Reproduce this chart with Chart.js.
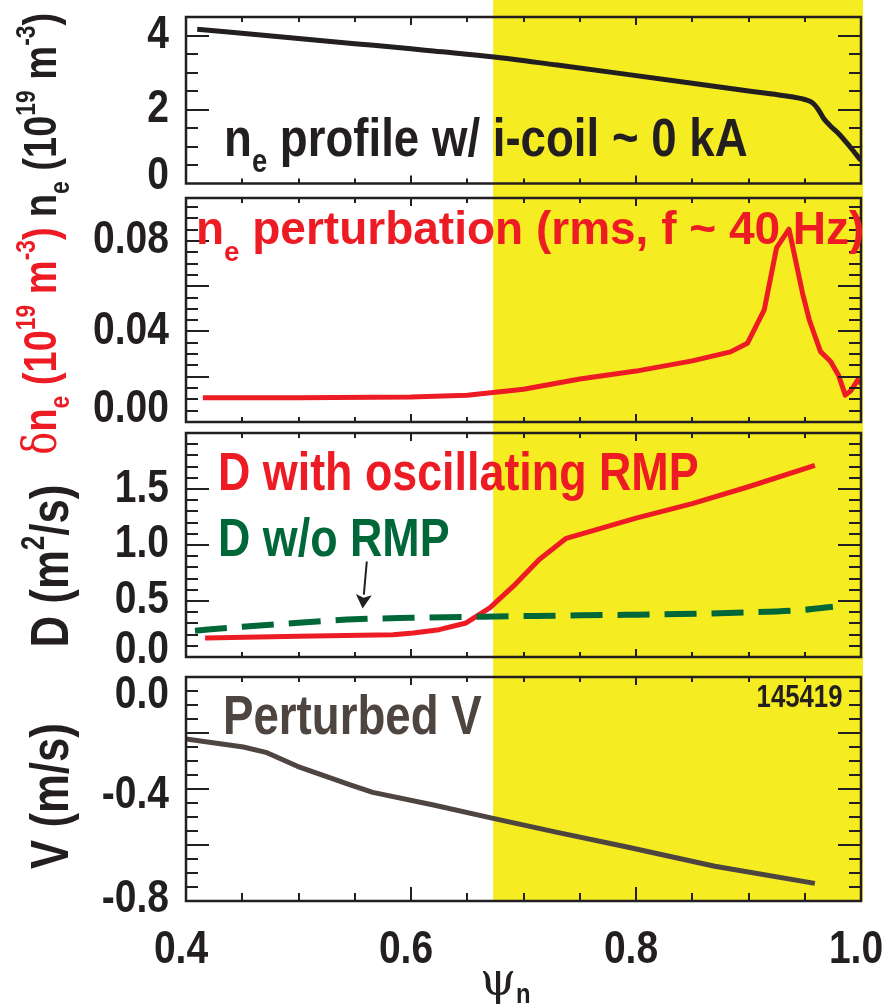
<!DOCTYPE html>
<html>
<head>
<meta charset="utf-8">
<script src="https://cdn.jsdelivr.net/npm/chart.js@4.4.0/dist/chart.umd.min.js"></script>
<style>
html,body{margin:0;padding:0;background:#fff;}
#wrap{position:relative;width:886px;height:1004px;overflow:hidden;}
#wrap canvas{position:absolute;left:0;}
.t{position:absolute;white-space:nowrap;font-family:"Liberation Sans",Arial,sans-serif;font-weight:bold;line-height:1;z-index:5;transform-origin:0 0;transform:scaleX(0.83);}
.tr{transform-origin:100% 0;}
.wide{transform:none;}
.rot{transform-origin:50% 50%;transform:translate(-50%,-50%) rotate(-90deg) scaleX(0.81);}
.sub{font-size:0.6em;position:relative;}
.sup{font-size:0.6em;position:relative;top:-0.75em;}
.sym{font-family:"DejaVu Serif",serif;font-weight:normal;}
</style>
</head>
<body>
<div id="wrap">
  <canvas id="c1" width="886" height="191" style="top:0px"></canvas>
  <canvas id="c2" width="886" height="236" style="top:191px"></canvas>
  <canvas id="c3" width="886" height="240" style="top:427px"></canvas>
  <canvas id="c4" width="886" height="337" style="top:667px"></canvas>

  <!-- y-axis titles -->
  <div class="t rot" style="left:39px;top:115px;font-size:47px;color:#231f20;">n<span class="sub" style="top:0.45em">e</span> (10<span class="sup">19</span> m<span class="sup">-3</span>)</div>
  <div class="t rot" style="left:39px;top:341px;font-size:47px;color:#ed1c24;"><span class="sym">δ</span>n<span class="sub" style="top:0.45em">e</span> (10<span class="sup">19</span> m<span class="sup">-3</span>)</div>
  <div class="t rot" style="left:49px;top:566px;font-size:54px;color:#231f20;">D (m<span class="sup">2</span>/s)</div>
  <div class="t rot" style="left:49px;top:796px;font-size:54px;color:#231f20;">V (m/s)</div>

  <!-- annotations -->
  <div class="t" style="left:224px;top:110px;font-size:54px;color:#231f20;transform:scaleX(0.845);">n<span class="sub" style="top:0.5em">e</span> profile w/ i-coil ~ 0 kA</div>
  <div class="t wide" style="left:196px;top:205px;font-size:46px;color:#ed1c24;">n<span class="sub" style="top:0.6em">e</span> perturbation (rms, f ~ 40 Hz)</div>
  <div class="t" style="left:218px;top:444px;font-size:54px;color:#ed1c24;">D with oscillating RMP</div>
  <div class="t" style="left:218px;top:510px;font-size:54px;color:#006838;">D w/o RMP</div>
  <div class="t" style="left:223px;top:688px;font-size:55px;color:#4e4540;">Perturbed V</div>
  <div class="t tr" style="right:44px;top:681px;font-size:31px;color:#231f20;">145419</div>

  <!-- x-axis title -->
  <div class="t wide" style="left:480px;top:956px;font-size:46px;color:#231f20;"><span style="font-family:'DejaVu Serif',serif;font-weight:normal;">ψ</span><span style="font-size:28px;position:relative;top:8px;display:inline-block;transform:scaleX(0.85);transform-origin:0 0;">n</span></div>
</div>

<script>
// ---------------- data ----------------
const psiNe = [0.41, 0.5, 0.55, 0.6, 0.62, 0.674, 0.73, 0.787, 0.85, 0.905, 0.93, 0.95, 0.957, 0.962, 0.967, 0.973, 0.98, 0.99, 1.0];
const neProfile = [4.17, 3.92, 3.78, 3.64, 3.58, 3.42, 3.20, 2.97, 2.71, 2.48, 2.38, 2.27, 2.18, 2.0, 1.75, 1.55, 1.35, 1.0, 0.62];

const psiPert = [0.415, 0.5, 0.6, 0.65, 0.7, 0.75, 0.8, 0.85, 0.884, 0.899, 0.914, 0.925, 0.936, 0.948, 0.954, 0.964, 0.973, 0.98, 0.986, 0.991, 0.997, 1.0];
const dnePert = [0.0107, 0.0107, 0.011, 0.0118, 0.0145, 0.019, 0.0225, 0.027, 0.031, 0.0348, 0.0496, 0.0771, 0.0852, 0.057, 0.0452, 0.0311, 0.0267, 0.0207, 0.0119, 0.0138, 0.0185, 0.017];

const psiDRmp = [0.417, 0.5, 0.584, 0.602, 0.625, 0.649, 0.67, 0.691, 0.714, 0.738, 0.8, 0.85, 0.9, 0.959];
const dWithRmp = [0.17, 0.185, 0.199, 0.215, 0.244, 0.304, 0.439, 0.632, 0.871, 1.06, 1.24, 1.37, 1.52, 1.71];

const psiDNoRmp = [0.408, 0.45, 0.5, 0.543, 0.6, 0.664, 0.7, 0.75, 0.8, 0.838, 0.9, 0.945, 0.975];
const dNoRmp = [0.235, 0.27, 0.305, 0.334, 0.35, 0.36, 0.365, 0.372, 0.378, 0.383, 0.398, 0.418, 0.448];

const psiV = [0.4, 0.451, 0.471, 0.499, 0.546, 0.566, 0.62, 0.672, 0.73, 0.791, 0.87, 0.959];
const vPerturbed = [-0.221, -0.25, -0.269, -0.319, -0.385, -0.412, -0.457, -0.504, -0.555, -0.606, -0.676, -0.737];

const yellowRange = [0.673, 1.0];
const xTickValues = [0.4, 0.6, 0.8, 1.0];
const xTickLabels = ['0.4', '0.6', '0.8', '1.0'];
const neTickValues = [0, 2, 4];
const neTickLabels = ['0', '2', '4'];
const pertTickValues = [0, 0.04, 0.08];
const pertTickLabels = ['0.00', '0.04', '0.08'];
const dTickValues = [0, 0.5, 1.0, 1.5];
const dTickLabels = ['0.0', '0.5', '1.0', '1.5'];
const vTickValues = [-0.8, -0.4, 0];
const vTickLabels = ['-0.8', '-0.4', '0.0'];
const arrowFrom = [0.5607, 0.853];
const arrowTo = [0.557, 0.432];

// ---------------- styling ----------------
const INK = '#231f20';
const RED = '#ed1c24';
const GREEN = '#006838';
const BROWN = '#4e4540';
const YELLOW = '#f5ec22';
const FONT = '"Liberation Sans", Arial, sans-serif';
const SQUEEZE = 0.83;

function pts(xs, ys) { return xs.map((x, i) => ({ x: x, y: ys[i] })); }

function squeezedText(ctx, txt, x, y, align) {
  ctx.save();
  ctx.translate(x, y);
  ctx.scale(SQUEEZE, 1);
  ctx.textAlign = align;
  ctx.fillText(txt, 0, 0);
  ctx.restore();
}

function panelPlugin(p) {
  return {
    id: 'panel_' + p.id,
    beforeDraw(chart) {
      const ctx = chart.ctx, a = chart.chartArea, xs = chart.scales.x;
      const x0 = xs.getPixelForValue(yellowRange[0]);
      const x1 = xs.getPixelForValue(yellowRange[1]) + 2;
      const yb = p.last ? a.bottom : chart.height;
      ctx.save();
      ctx.fillStyle = YELLOW;
      ctx.fillRect(x0, 0, x1 - x0, yb);
      ctx.restore();
    },
    afterDatasetsDraw(chart) {
      const ctx = chart.ctx, a = chart.chartArea, xs = chart.scales.x, ys = chart.scales.y;
      ctx.save();
      ctx.strokeStyle = INK;
      ctx.lineCap = 'butt';
      // y ticks (left & right, inward)
      ctx.lineWidth = 2;
      const n = Math.round((p.yMax - p.yMin) / p.minor);
      for (let i = 0; i <= n; i++) {
        const v = p.yMin + i * p.minor;
        if (v > p.yMax + 1e-9) break;
        const yPix = Math.round(ys.getPixelForValue(v));
        if (yPix < a.top + 3 || yPix > a.bottom - 3) continue;
        const isMajor = Math.abs(v / p.major - Math.round(v / p.major)) < 1e-6;
        const len = isMajor ? 23 : 12;
        ctx.beginPath();
        ctx.moveTo(a.left, yPix); ctx.lineTo(a.left + len, yPix);
        ctx.moveTo(a.right, yPix); ctx.lineTo(a.right - len, yPix);
        ctx.stroke();
      }
      // x ticks (top & bottom, inward)
      const nx = Math.round((1.0 - 0.4) / 0.05);
      for (let i = 1; i < nx; i++) {
        const v = 0.4 + i * 0.05;
        const xPix = Math.round(xs.getPixelForValue(v));
        const isMajor = Math.abs(v / 0.2 - Math.round(v / 0.2)) < 1e-6;
        const lb = isMajor ? p.xMajBot : p.xMinBot;
        const lt = isMajor ? 8 : 5;
        ctx.beginPath();
        ctx.moveTo(xPix, a.bottom); ctx.lineTo(xPix, a.bottom - lb);
        ctx.moveTo(xPix, a.top); ctx.lineTo(xPix, a.top + lt);
        ctx.stroke();
      }
      // frame
      ctx.lineWidth = 2.5;
      ctx.strokeRect(a.left, a.top, a.right - a.left, a.bottom - a.top);
      // arrow annotation
      if (p.arrow) {
        const fx = xs.getPixelForValue(arrowFrom[0]), fy = ys.getPixelForValue(arrowFrom[1]);
        const tx = xs.getPixelForValue(arrowTo[0]), ty = ys.getPixelForValue(arrowTo[1]);
        const ang = Math.atan2(ty - fy, tx - fx);
        const hl = 14, hw = 8;
        const bx = tx - hl * Math.cos(ang), by = ty - hl * Math.sin(ang);
        ctx.lineWidth = 2;
        ctx.beginPath(); ctx.moveTo(fx, fy); ctx.lineTo(bx, by); ctx.stroke();
        ctx.fillStyle = INK;
        ctx.beginPath();
        ctx.moveTo(tx, ty);
        ctx.lineTo(bx + hw * Math.sin(ang), by - hw * Math.cos(ang));
        ctx.lineTo(bx + 3 * Math.cos(ang), by + 3 * Math.sin(ang));
        ctx.lineTo(bx - hw * Math.sin(ang), by + hw * Math.cos(ang));
        ctx.closePath(); ctx.fill();
      }
      // y tick labels
      ctx.fillStyle = INK;
      ctx.font = 'bold 47px ' + FONT;
      ctx.textBaseline = 'alphabetic';
      p.yLabelValues.forEach((v, i) => {
        const cy = ys.getPixelForValue(v) + (p.yNudge[i] || 0);
        squeezedText(ctx, p.yLabels[i], 169, cy + 0.358 * 47, 'right');
      });
      // x tick labels (bottom panel only)
      if (p.last) {
        xTickValues.forEach((v, i) => {
          squeezedText(ctx, xTickLabels[i], xs.getPixelForValue(v) - 5, a.bottom + 62, 'center');
        });
      }
      ctx.restore();
    }
  };
}

function makeChart(id, datasets, p, pad) {
  return new Chart(document.getElementById(id), {
    type: 'line',
    data: { datasets: datasets },
    options: {
      responsive: false,
      maintainAspectRatio: false,
      animation: false,
      events: [],
      layout: { padding: pad },
      elements: { point: { radius: 0 }, line: { borderJoinStyle: 'round', borderCapStyle: 'butt' } },
      plugins: { legend: { display: false }, tooltip: { enabled: false } },
      scales: {
        x: { type: 'linear', min: 0.4, max: 1.0, display: false },
        y: { type: 'linear', min: p.yMin, max: p.yMax, display: false }
      }
    },
    plugins: [panelPlugin(p)]
  });
}

const padX = { left: 186, right: 25 };

makeChart('c1', [
  { data: pts(psiNe, neProfile), borderColor: INK, borderWidth: 5, cubicInterpolationMode: 'monotone' }
], { id: 1, yMin: 0, yMax: 4.5, minor: 0.5, major: 2, yLabelValues: neTickValues, yLabels: neTickLabels,
     yNudge: [-11, -4, -4], xMajBot: 8, xMinBot: 5 },
   { left: padX.left, right: padX.right, top: 17, bottom: 7.5 });

makeChart('c2', [
  { data: pts(psiPert, dnePert), borderColor: RED, borderWidth: 5, tension: 0 }
], { id: 2, yMin: 0, yMax: 0.099, minor: 0.005, major: 0.02, yLabelValues: pertTickValues, yLabels: pertTickLabels,
     yNudge: [-17, -4, -5], xMajBot: 8, xMinBot: 5 },
   { left: padX.left, right: padX.right, top: 7, bottom: 5 });

makeChart('c3', [
  { data: pts(psiDNoRmp, dNoRmp), borderColor: GREEN, borderWidth: 6, borderDash: [32, 15], cubicInterpolationMode: 'monotone' },
  { data: pts(psiDRmp, dWithRmp), borderColor: RED, borderWidth: 5, tension: 0 }
], { id: 3, yMin: 0, yMax: 2.0, minor: 0.1, major: 0.5, yLabelValues: dTickValues, yLabels: dTickLabels,
     yNudge: [-11, -5, -5, -4], xMajBot: 8, xMinBot: 5, arrow: true },
   { left: padX.left, right: padX.right, top: 6, bottom: 10 });

makeChart('c4', [
  { data: pts(psiV, vPerturbed), borderColor: BROWN, borderWidth: 5, tension: 0 }
], { id: 4, yMin: -0.8, yMax: 0, minor: 0.05, major: 0.2, yLabelValues: vTickValues, yLabels: vTickLabels,
     yNudge: [-6, 2, 14], xMajBot: 14, xMinBot: 8, last: true },
   { left: padX.left, right: padX.right, top: 10, bottom: 103 });
</script>
</body>
</html>
